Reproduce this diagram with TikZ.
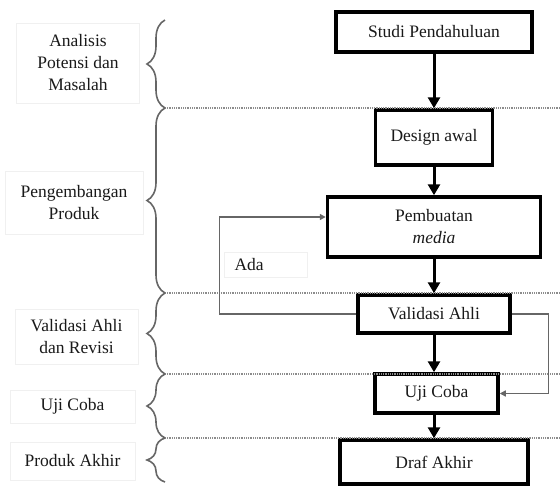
\documentclass[tikz,border=0pt]{standalone}
\usepackage{fontspec}
\setmainfont{Liberation Serif}
\usetikzlibrary{arrows.meta,decorations.pathreplacing}
\begin{document}
\begin{tikzpicture}[x=1pt, y=-1pt, font=\fontsize{17.5}{22}\selectfont,
    tahap/.style={draw=black, line width=3.5pt, inner sep=0pt, align=center, text=black!90},
    label/.style={draw=black!6, line width=0.6pt, inner sep=0pt, align=center, text=black!90},
    panah/.style={-{Triangle[length=11pt,width=12pt]}, line width=3pt},
    balik/.style={-{Triangle[length=6pt,width=6pt]}, draw=black!60, line width=1.4pt},
    batas/.style={draw=black!45, line width=1.3pt, dash pattern=on 1pt off 0.8pt},
    kurung/.style={draw=black!60, line width=1.6pt, decorate, decoration={brace, amplitude=18pt}}]
    \useasboundingbox (0,0) rectangle (560,488);

    % Tahapan
    \node[tahap, minimum width=196, minimum height=40] (studi) at (434,32) {Studi Pendahuluan};
    \node[tahap, minimum width=117, minimum height=55] (design) at (434,137.5) {Design awal};
    \node[tahap, minimum width=213, minimum height=60] (pembuatan) at (434,227) {Pembuatan\\\textit{media}};
    \node[tahap, minimum width=152, minimum height=38] (validasi) at (434,314) {Validasi Ahli};
    \node[tahap, minimum width=123, minimum height=39] (ujicoba) at (436.5,393.5) {Uji Coba};
    \node[tahap, minimum width=188, minimum height=44] (draf) at (434,462) {Draf Akhir};

    % Keterangan
    \node[label, minimum width=123, minimum height=80] (analisisK) at (78,63) {Analisis\\Potensi dan\\Masalah};
    \node[label, minimum width=138, minimum height=63] (pengembanganK) at (74,203) {Pengembangan\\Produk};
    \node[label, minimum width=123, minimum height=55] (validasiK) at (76.5,336.5) {Validasi Ahli\\dan Revisi};
    \node[label, minimum width=125, minimum height=33] (ujicobaK) at (72.5,406.5) {Uji Coba};
    \node[label, minimum width=125, minimum height=38] (produkK) at (72.5,461) {Produk Akhir};
    \node[label, minimum width=83, minimum height=25, text width=63, inner xsep=10, align=left] (ada) at (266,265) {Ada};

    % Batas tahap
    \draw[batas] (165,108) -- (560,108);
    \draw[batas] (165,293) -- (560,293);
    \draw[batas] (165,374) -- (560,374);
    \draw[batas] (165,438) -- (560,438);

    % Kurung
    \draw[kurung] (165,108) -- (165,20);
    \draw[kurung] (165,293) -- (165,108);
    \draw[kurung] (165,374) -- (165,293);
    \draw[kurung] (165,438) -- (165,374);
    \draw[kurung] (165,482) -- (165,438);

    % Panah
    \draw[panah] (studi) -- (design);
    \draw[panah] (design) -- (pembuatan);
    \draw[panah] (pembuatan) -- (validasi);
    \draw[panah] (validasi.south) -- (validasi.south |- ujicoba.north);
    \draw[panah] (ujicoba.south -| draf.north) -- (draf.north);
    \draw[balik] (validasi.west) -- ++(-137,0) |- ([yshift=10pt]pembuatan.west);
    \draw[balik] (validasi.east) -- ++(37,0) |- (ujicoba.east);
\end{tikzpicture}
\end{document}
